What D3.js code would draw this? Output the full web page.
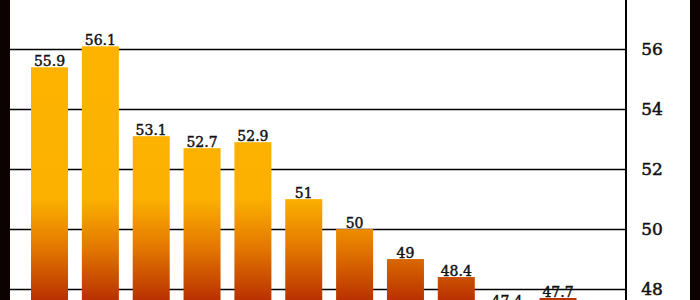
<!DOCTYPE html>
<html>
<head>
<meta charset="utf-8">
<script src="https://cdn.jsdelivr.net/npm/d3@7"></script>
<style>
  html, body { margin: 0; padding: 0; background: #fff; }
  svg { display: block; }
</style>
</head>
<body>
<svg id="chart" width="700" height="300"></svg>
<script>
// ---- data ----
const categories = ["1", "2", "3", "4", "5", "6", "7", "8", "9", "10", "11"];
const values = [55.4, 56.1, 53.1, 52.7, 52.9, 51, 50, 49, 48.4, 47.4, 47.7];
const labels = ["55.9", "56.1", "53.1", "52.7", "52.9", "51", "50", "49", "48.4", "47.4", "47.7"];
const tickValues = [46, 48, 50, 52, 54, 56, 58];

// ---- layout ----
const W = 700, H = 300;
const svg = d3.select("#chart");

const x = d3.scaleBand().domain(categories).range([31, 576.5]).paddingInner(0.272).paddingOuter(0);
const y = d3.scaleLinear().domain([48, 56]).range([289, 49.3]);

// gradient (fixed in page space)
const defs = svg.append("defs");
const grad = defs.append("linearGradient")
  .attr("id", "barGrad")
  .attr("gradientUnits", "userSpaceOnUse")
  .attr("x1", 0).attr("x2", 0).attr("y1", 0).attr("y2", H);
grad.append("stop").attr("offset", "0%").attr("stop-color", "#FDB400");
grad.append("stop").attr("offset", "66%").attr("stop-color", "#FCB100");
grad.append("stop").attr("offset", "83%").attr("stop-color", "#E27600");
grad.append("stop").attr("offset", "100%").attr("stop-color", "#B93100");

// gridlines
svg.append("g").selectAll("line")
  .data(tickValues)
  .join("line")
  .attr("x1", 10).attr("x2", 626)
  .attr("y1", d => Math.round(y(d)) + 0.5).attr("y2", d => Math.round(y(d)) + 0.5)
  .attr("stroke", "#000").attr("stroke-width", 1.4);

// bars
svg.append("g").selectAll("rect")
  .data(values)
  .join("rect")
  .attr("x", (d, i) => x(categories[i]))
  .attr("width", x.bandwidth())
  .attr("y", d => y(d))
  .attr("height", d => Math.max(0, H + 5 - y(d)))
  .attr("fill", "url(#barGrad)");

// value labels
svg.append("g").selectAll("text")
  .data(values)
  .join("text")
  .attr("x", (d, i) => x(categories[i]) + x.bandwidth() / 2)
  .attr("y", d => y(d) - 1)
  .attr("text-anchor", "middle")
  .attr("font-family", "DejaVu Serif")
  .attr("font-size", 14)
  .attr("fill", "#111")
  .attr("stroke", "#111")
  .attr("stroke-width", 0.45)
  .text((d, i) => labels[i]);

// right axis
const axis = d3.axisRight(y).tickValues(tickValues).tickSize(0).tickPadding(26).tickFormat(d3.format("d"));
const ag = svg.append("g").attr("transform", "translate(626,0)").call(axis);
ag.select(".domain").remove();
ag.append("line").attr("x1", 0).attr("x2", 0).attr("y1", 0).attr("y2", H)
  .attr("stroke", "#000").attr("stroke-width", 2);
ag.selectAll(".tick text")
  .attr("text-anchor", "middle")
  .attr("font-family", "DejaVu Serif")
  .attr("font-size", 17)
  .attr("fill", "#111")
  .attr("stroke", "#111")
  .attr("stroke-width", 0.5);

// side borders
svg.append("rect").attr("x", 0).attr("y", 0).attr("width", 10).attr("height", H).attr("fill", "#0d0202");
svg.append("rect").attr("x", 690).attr("y", 0).attr("width", 10).attr("height", H).attr("fill", "#0d0202");
</script>
</body>
</html>
